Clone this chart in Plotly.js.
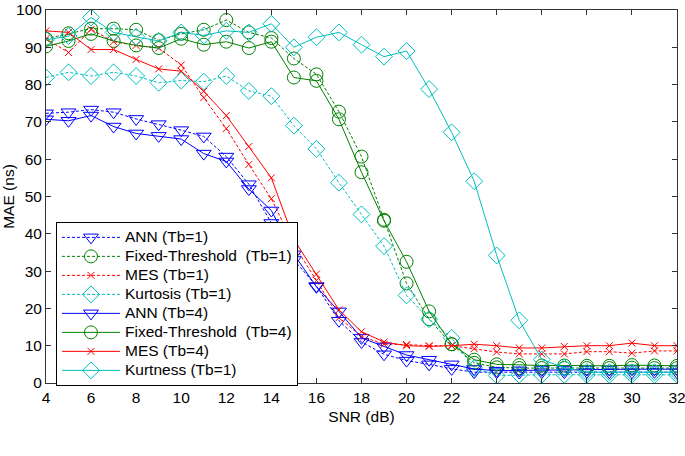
<!DOCTYPE html>
<html>
<head>
<meta charset="utf-8">
<script src="https://cdn.plot.ly/plotly-3.0.1.min.js"></script>
<style>
  html, body { margin: 0; padding: 0; background: #fff; }
  #chart { width: 685px; height: 456px; }
</style>
</head>
<body>
<div id="chart"></div>
<script>
// SNR values (dB)
const snr = [4, 5, 6, 7, 8, 9, 10, 11, 12, 13, 14, 15, 16, 17, 18, 19, 20, 21, 22, 23, 24, 25, 26, 27, 28, 29, 30, 31, 32];

// MAE (ns)
const annTb1 = [72.3, 72.6, 73.3, 72.6, 70.8, 69.4, 67.8, 66.1, 60.7, 53.3, 42.9, 33, 26, 16.7, 11, 7.7, 6, 5, 3.8, 2.9, 2.9, 2.8, 2.9, 2.9, 3, 2.9, 2.9, 3, 2.9];
const fixedTb1 = [92.3, 93.75, 95, 95, 94.7, 91.9, 93.6, 94.7, 97.3, 94, 92.5, 87, 82.75, 72.75, 60.7, 43.75, 26.7, 17.1, 10.4, 5.4, 4.2, 4, 4, 4, 4, 4, 4.1, 4, 4];
const mesTb1 = [92.3, 88.6, 94.8, 91.5, 90.5, 89.8, 85.25, 76.5, 68.2, 58.6, 49.4, 37, 27.5, 17.5, 12.5, 10.4, 10.3, 10, 10, 9.2, 8.3, 7.8, 7.8, 7.8, 8.4, 8.4, 8, 8.6, 8.6];
const kurtosisTb1 = [81.9, 83.3, 82.3, 83.3, 82.3, 80.5, 81.1, 80.8, 82.3, 78.3, 76.9, 69, 62.75, 53.7, 45.2, 36.7, 23.5, 17.1, 12.1, 4, 2, 2.2, 2.2, 2.2, 2.2, 2.2, 2.2, 2.2, 2.2];
const annTb4 = [70.7, 70.3, 71.7, 68.75, 66.9, 66.25, 65.4, 61.5, 59.4, 52, 46.25, 34.5, 25.8, 19.2, 12.1, 9.8, 7.5, 6.25, 5, 3.75, 3.3, 3.4, 3.5, 3.5, 3.6, 3.6, 3.7, 3.7, 3.7];
const fixedTb4 = [90.25, 91.7, 93.6, 91.7, 90.5, 89.8, 92.3, 90.7, 91.5, 89.8, 91.5, 81.9, 81, 70.7, 56.5, 43.5, 32.5, 19.2, 10.4, 6.25, 5, 4.8, 4.7, 4.7, 4.6, 4.6, 4.8, 4.7, 4.6];
const mesTb4 = [94.4, 94, 89.4, 89.4, 86.75, 84.2, 83.6, 78.2, 71.7, 63.4, 55, 38.5, 29.2, 19.6, 13.75, 11, 10, 9.8, 10, 10.4, 10, 9.4, 9.4, 9.8, 10, 10, 10.7, 10, 10];
const kurtnessTb1 = [92, 93, 98, 94, 92.8, 91.7, 94, 93.2, 94.4, 94, 96.3, 90, 92.7, 94, 90.7, 87.5, 89, 78.8, 67.2, 54.1, 34.2, 16.8, 6.3, 4.1, 2.9, 2.9, 2.9, 2.9, 2.9];

const BLUE = "#0000ff", GREEN = "#008000", RED = "#ff0000", CYAN = "#00bfbf";
const DASH = "3px,2px";

// legend rows are spaced by the legend font size, so the label text gets its own size
function label(s) {
    return '<span style="font-size:15.5px">' + s + '</span>';
}

function series(name, y, color, dash, symbol, size) {
    return {
        x: snr, y: y, name: label(name), type: "scatter", mode: "lines+markers",
        line: { color: color, width: 1, dash: dash },
        marker: { symbol: symbol, size: size, color: color, line: { color: color, width: 1 } }
    };
}

const traces = [
    series("ANN (Tb=1)", annTb1, BLUE, DASH, "triangle-down-open", 13),
    series("Fixed-Threshold\u00a0 (Tb=1)", fixedTb1, GREEN, DASH, "circle-open", 13),
    series("MES (Tb=1)", mesTb1, RED, DASH, "x-thin-open", 7),
    series("Kurtosis (Tb=1)", kurtosisTb1, CYAN, DASH, "diamond-open", 13),
    series("ANN (Tb=4)", annTb4, BLUE, "solid", "triangle-down-open", 13),
    series("Fixed-Threshold\u00a0 (Tb=4)", fixedTb4, GREEN, "solid", "circle-open", 13),
    series("MES (Tb=4)", mesTb4, RED, "solid", "x-thin-open", 7),
    series("Kurtness (Tb=1)", kurtnessTb1, CYAN, "solid", "diamond-open", 13)
];

const font = { family: "Liberation Sans, Arial, sans-serif", size: 15.5, color: "#000" };

const layout = {
    width: 685, height: 456,
    margin: { l: 46, r: 8, t: 10, b: 73 },
    paper_bgcolor: "#fff", plot_bgcolor: "#fff",
    font: font,
    showlegend: true,
    xaxis: {
        range: [4, 32], tick0: 4, dtick: 2,
        ticks: "inside", ticklen: 5, tickcolor: "#333",
        showline: true, linecolor: "#333", linewidth: 1, mirror: "ticks",
        showgrid: false, zeroline: false,
        tickfont: font, ticklabeloverflow: "allow",
        title: { text: "SNR (dB)", font: font, standoff: 6 }
    },
    yaxis: {
        range: [0, 100], tick0: 0, dtick: 10,
        ticks: "inside", ticklen: 5, tickcolor: "#333",
        showline: true, linecolor: "#333", linewidth: 1, mirror: "ticks",
        showgrid: false, zeroline: false,
        tickfont: font, ticklabeloverflow: "allow",
        title: { text: "MAE (ns)", font: font, standoff: 4 }
    },
    legend: {
        x: 0.0158, y: 0.432, xanchor: "left", yanchor: "top",
        bgcolor: "#fff", bordercolor: "#000", borderwidth: 1,
        font: { family: font.family, size: 12.3, color: "#000" },
        itemwidth: 58, tracegroupgap: 0
    }
};

Plotly.newPlot("chart", traces, layout, { displayModeBar: false, staticPlot: true });
</script>
</body>
</html>
